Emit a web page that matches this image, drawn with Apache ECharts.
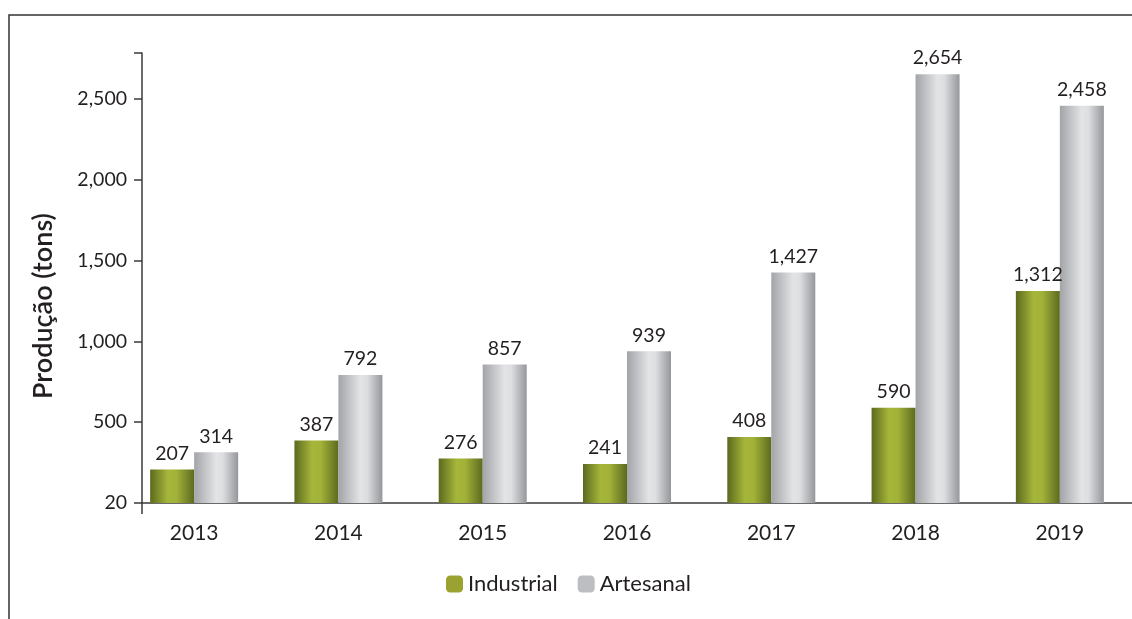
<!DOCTYPE html>
<html>
<head>
<meta charset="utf-8">
<script src="https://cdn.jsdelivr.net/npm/echarts@6/dist/echarts.min.js"></script>
<style>
  html, body { margin: 0; padding: 0; background: #fff; }
  #chart { width: 1132px; height: 619px; }
</style>
</head>
<body>
<div id="chart"></div>
<script>
// Production by year (tons)
const years = ['2013', '2014', '2015', '2016', '2017', '2018', '2019'];
const industrial = [207, 387, 276, 241, 408, 590, 1312];
const artesanal = [314, 792, 857, 939, 1427, 2654, 2458];
const yTickValues = [0, 500, 1000, 1500, 2000, 2500];
const yTickLabels = ['20', '500', '1,000', '1,500', '2,000', '2,500'];
const seriesNames = ['Industrial', 'Artesanal'];
const swatchColors = ['#9aa32f', '#bdbec2'];

const FONT = 'Lato, "Noto Sans", sans-serif';
const TEXT = '#231f20';
const AXIS = '#3a3a3a';
const Y_MAX = 2785;

function fmt(v) {
  return v.toLocaleString('en-US');
}

function barGradient(stops) {
  return new echarts.graphic.LinearGradient(0, 0, 1, 0,
    stops.map(([offset, color]) => ({ offset, color })));
}

const greenFill = barGradient([
  [0, '#5b6a1e'], [0.4, '#a6b63a'], [0.6, '#a2b238'], [1, '#5c6a1f']
]);
const grayFill = barGradient([
  [0, '#a3a4a8'], [0.5, '#e3e4e6'], [0.65, '#dddee0'], [1, '#96979b']
]);

const chart = echarts.init(document.getElementById('chart'), null, { renderer: 'canvas' });

const valueLabel = {
  show: true,
  position: 'top',
  distance: 6,
  color: TEXT,
  fontFamily: FONT,
  fontSize: 19.5,
  formatter: p => fmt(p.value)
};

chart.setOption({
  animation: false,
  backgroundColor: '#fff',
  textStyle: { fontFamily: FONT },
  graphic: [
    {
      type: 'rect',
      shape: { x: 9, y: 15, width: 1300, height: 800 },
      style: { fill: 'none', stroke: '#333', lineWidth: 1.5 },
      silent: true
    },
    {
      // short overhang of the value axis below the baseline
      type: 'line',
      shape: { x1: 142, y1: 503, x2: 142, y2: 514 },
      style: { stroke: AXIS, lineWidth: 1.5 },
      silent: true
    },
    {
      type: 'text',
      x: 43,
      y: 306,
      rotation: Math.PI / 2,
      style: {
        text: 'Produção (tons)',
        fontFamily: FONT,
        fontSize: 27,
        fontWeight: 600,
        fill: TEXT,
        align: 'center',
        verticalAlign: 'middle'
      }
    }
  ],
  legend: {
    data: seriesNames.map((name, i) => ({ name, itemStyle: { color: swatchColors[i] } })),
    left: 441,
    top: 568,
    icon: 'roundRect',
    itemWidth: 17,
    itemHeight: 17,
    itemGap: 20,
    textStyle: { fontFamily: FONT, fontSize: 22, color: TEXT }
  },
  grid: [
    // plotting area for the bars
    { left: 122, right: -5, top: 53, bottom: 116 },
    // area carrying the visible axis lines
    { left: 142, right: 0, top: 53, bottom: 116 }
  ],
  xAxis: [
    {
      type: 'category',
      gridIndex: 0,
      data: years,
      axisLine: { show: false },
      axisTick: { show: false },
      axisLabel: { color: TEXT, fontFamily: FONT, fontSize: 21, margin: 20 }
    },
    {
      type: 'category',
      gridIndex: 1,
      data: years,
      axisLine: { show: true, lineStyle: { color: AXIS, width: 1.5 } },
      axisTick: { show: false },
      axisLabel: { show: false }
    }
  ],
  yAxis: [
    {
      type: 'value',
      gridIndex: 0,
      min: 0,
      max: Y_MAX,
      interval: 500,
      show: false,
      splitLine: { show: false }
    },
    {
      type: 'value',
      gridIndex: 1,
      min: 0,
      max: Y_MAX,
      interval: 500,
      splitLine: { show: false },
      axisLine: { show: true, lineStyle: { color: AXIS, width: 1.5 } },
      axisTick: { show: true, inside: false, length: 8, lineStyle: { color: AXIS, width: 1.5 } },
      axisLabel: {
        color: TEXT,
        fontFamily: FONT,
        fontSize: 19.5,
        margin: 15,
        formatter: v => {
          const i = yTickValues.indexOf(v);
          return i >= 0 ? yTickLabels[i] : '';
        }
      }
    }
  ],
  series: [
    {
      name: seriesNames[0],
      type: 'bar',
      xAxisIndex: 0,
      yAxisIndex: 0,
      data: industrial,
      barWidth: 44,
      barGap: '0%',
      itemStyle: { color: greenFill },
      label: valueLabel
    },
    {
      name: seriesNames[1],
      type: 'bar',
      xAxisIndex: 0,
      yAxisIndex: 0,
      data: artesanal,
      barWidth: 44,
      barGap: '0%',
      itemStyle: { color: grayFill },
      label: valueLabel
    }
  ]
});
</script>
</body>
</html>
